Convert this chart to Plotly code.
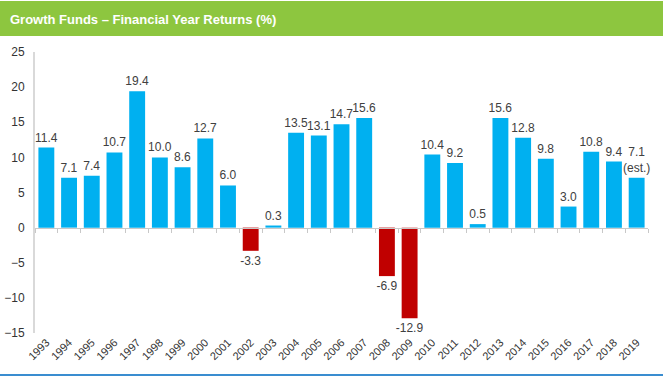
import plotly.graph_objects as go

years = [str(y) for y in range(1993, 2020)]
returns = [11.4, 7.1, 7.4, 10.7, 19.4, 10.0, 8.6, 12.7, 6.0, -3.3, 0.3, 13.5, 13.1, 14.7,
           15.6, -6.9, -12.9, 10.4, 9.2, 0.5, 15.6, 12.8, 9.8, 3.0, 10.8, 9.4, 7.1]
label_notes = [""] * 26 + ["(est.)"]
title = "Growth Funds – Financial Year Returns (%)"

W, H = 664, 379
L, R, T, B = 35, 16, 52, 46
pw, ph = W - L - R, H - T - B
ymin, ymax = -15, 25

def px(x):
    return (x - L) / pw

def py(y):
    return (H - B - y) / ph

labels = [f"{v:.1f}" + (f"<br>{n}" if n else "") for v, n in zip(returns, label_notes)]
colors = ["#00B0F0" if v >= 0 else "#C00000" for v in returns]
xr = [-0.5, len(years) - 0.5]

fig = go.Figure()
fig.add_trace(go.Bar(
    x=years, y=returns, text=labels, textposition="outside",
    constraintext="none", cliponaxis=False,
    textfont=dict(family="Liberation Sans, Arial", size=12, color="#404040"),
    marker=dict(color=colors, line=dict(width=0)),
    hoverinfo="skip",
))
# invisible trace on overlaying axis for zero-line ticks
fig.add_trace(go.Scatter(x=years, y=returns, xaxis="x2", mode="lines",
                         line=dict(width=0), opacity=0, hoverinfo="skip", showlegend=False))

fig.update_layout(
    width=W, height=H, margin=dict(l=L, r=R, t=T, b=B, autoexpand=False),
    paper_bgcolor="white", plot_bgcolor="white", showlegend=False,
    bargap=0.3,
    font=dict(family="Liberation Sans, Arial", color="#333333"),
    xaxis=dict(range=xr, showline=False, showgrid=False, zeroline=False, ticks="",
               tickangle=-45, automargin=False, tickfont=dict(size=11, color="#333333")),
    xaxis2=dict(range=xr, overlaying="x", anchor="free",
                position=(0 - ymin) / (ymax - ymin),
                showline=True, linecolor="#c8c8c8", linewidth=1, ticks="outside",
                tickcolor="#c8c8c8", ticklen=4, tickson="boundaries",
                showticklabels=False, showgrid=False, zeroline=False, automargin=False),
    yaxis=dict(range=[ymin, ymax], dtick=5, showgrid=False, zeroline=False,
               showline=True, linecolor="#d9d9d9", linewidth=2, ticks="",
               automargin=False, ticklabelstandoff=6, tickfont=dict(size=12, color="#333333")),
)

fig.add_shape(type="rect", xref="paper", yref="paper",
              x0=px(0), x1=px(663), y0=py(36), y1=py(1),
              fillcolor="#8DC63F", line=dict(width=0), layer="below")
fig.add_shape(type="line", xref="paper", yref="paper",
              x0=px(0), x1=px(663), y0=py(375), y1=py(375),
              line=dict(color="#3A8DD0", width=2))
fig.add_annotation(text=f"<b>{title}</b>", xref="paper", yref="paper",
                   x=px(8), y=py(19), xanchor="left", yanchor="middle", showarrow=False,
                   font=dict(family="Liberation Sans, Arial", size=13, color="white"))

fig.write_html("out.html", config={"displayModeBar": False},
               post_script="document.body.style.margin='0';document.body.style.padding='0';")
